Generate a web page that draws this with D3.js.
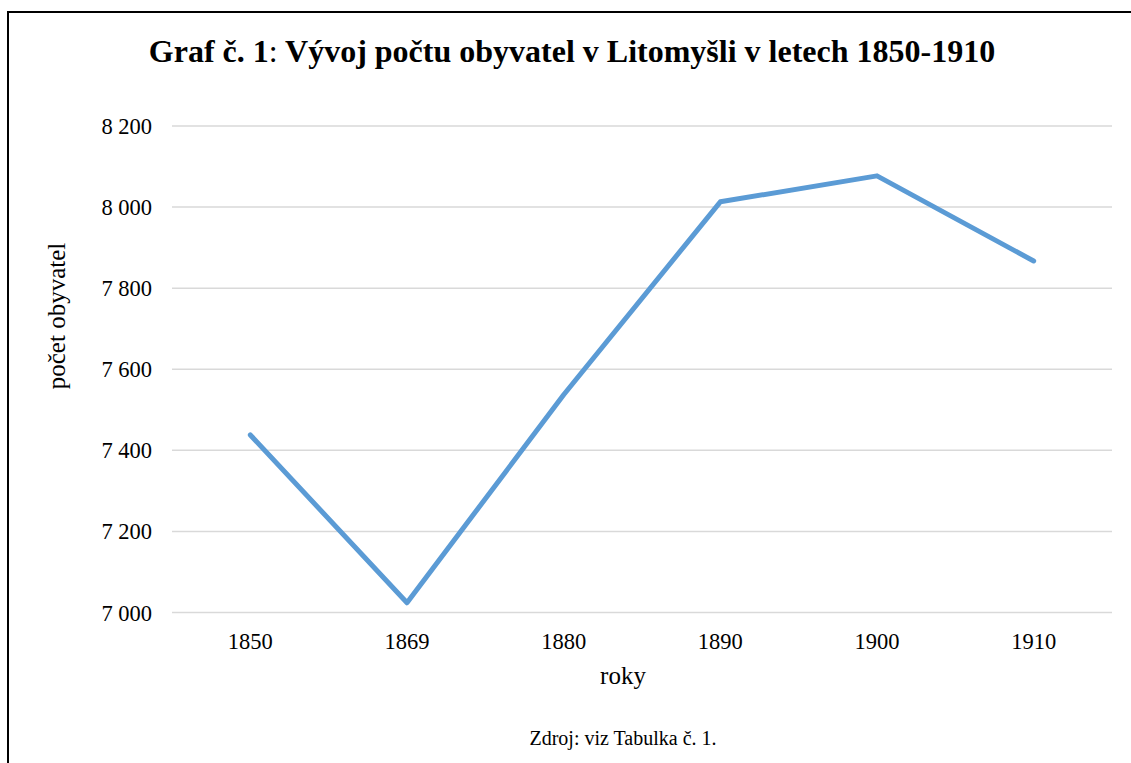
<!doctype html>
<html lang="cs">
<head>
<meta charset="utf-8">
<title>Vývoj počtu obyvatel v Litomyšli</title>
<script src="https://cdn.jsdelivr.net/npm/d3@7"></script>
<style>
  body { margin: 0; background: #fff; }
  svg text { font-family: "Liberation Serif", "Times New Roman", serif; fill: #000; }
</style>
</head>
<body>
<script>
    // data
    var roky = ["1850", "1869", "1880", "1890", "1900", "1910"];
    var obyvatel = [7438, 7024, 7537, 8013, 8077, 7867];
    var yTicks = [7000, 7200, 7400, 7600, 7800, 8000, 8200];

    var W = 1131, H = 763;
    var svg = d3.select("body").append("svg")
            .attr("width", W).attr("height", H);

    // chart frame (runs off right and bottom edge like the original)
    svg.append("rect")
        .attr("x", 8).attr("y", 12)
        .attr("width", W + 20).attr("height", H + 20)
        .attr("fill", "none").attr("stroke", "#000").attr("stroke-width", 2);

    var x = d3.scaleBand().domain(roky).range([172, 1112]);
    var y = d3.scaleLinear().domain([7000, 8200]).range([612.5, 126]);

    var fmt = function(v){ return d3.format(",")(v).replace(",", " "); };

    // gridlines
    svg.append("g").selectAll("line")
        .data(yTicks)
        .enter().append("line")
        .attr("x1", 172).attr("x2", 1112)
        .attr("y1", function(d){ return y(d); })
        .attr("y2", function(d){ return y(d); })
        .attr("stroke", "#d9d9d9").attr("stroke-width", 1.5);

    // y tick labels
    svg.append("g").selectAll("text")
        .data(yTicks)
        .enter().append("text")
        .attr("x", 152)
        .attr("y", function(d){ return y(d) + 8; })
        .attr("text-anchor", "end")
        .style("font-size", "22.5px")
        .text(fmt);

    // x tick labels
    svg.append("g").selectAll("text")
        .data(roky)
        .enter().append("text")
        .attr("x", function(d){ return x(d) + x.bandwidth()/2; })
        .attr("y", 649)
        .attr("text-anchor", "middle")
        .style("font-size", "22.5px")
        .text(function(d){ return d; });

    // the line
    var line = d3.line()
        .x(function(d, i){ return x(roky[i]) + x.bandwidth()/2; })
        .y(function(d){ return y(d); });
    svg.append("path")
        .datum(obyvatel)
        .attr("d", line)
        .attr("fill", "none")
        .attr("stroke", "#5b9bd5")
        .attr("stroke-width", 5)
        .attr("stroke-linecap", "round")
        .attr("stroke-linejoin", "round");

    // titles
    var title = svg.append("text")
        .attr("x", 572).attr("y", 62)
        .attr("text-anchor", "middle")
        .style("font-size", "32px")
        .style("font-weight", "bold");
    title.append("tspan").text("Graf č. 1");
    title.append("tspan").style("font-weight", "normal").text(":");
    title.append("tspan").text(" Vývoj počtu obyvatel v Litomyšli v letech 1850-1910");

    svg.append("text")
        .attr("transform", "translate(65,316) rotate(-90)")
        .attr("text-anchor", "middle")
        .style("font-size", "25px")
        .text("počet obyvatel");

    svg.append("text")
        .attr("x", 623).attr("y", 684)
        .attr("text-anchor", "middle")
        .style("font-size", "25px")
        .text("roky");

    svg.append("text")
        .attr("x", 623).attr("y", 745)
        .attr("text-anchor", "middle")
        .style("font-size", "20px")
        .text("Zdroj: viz Tabulka č. 1.");
</script>
</body>
</html>
